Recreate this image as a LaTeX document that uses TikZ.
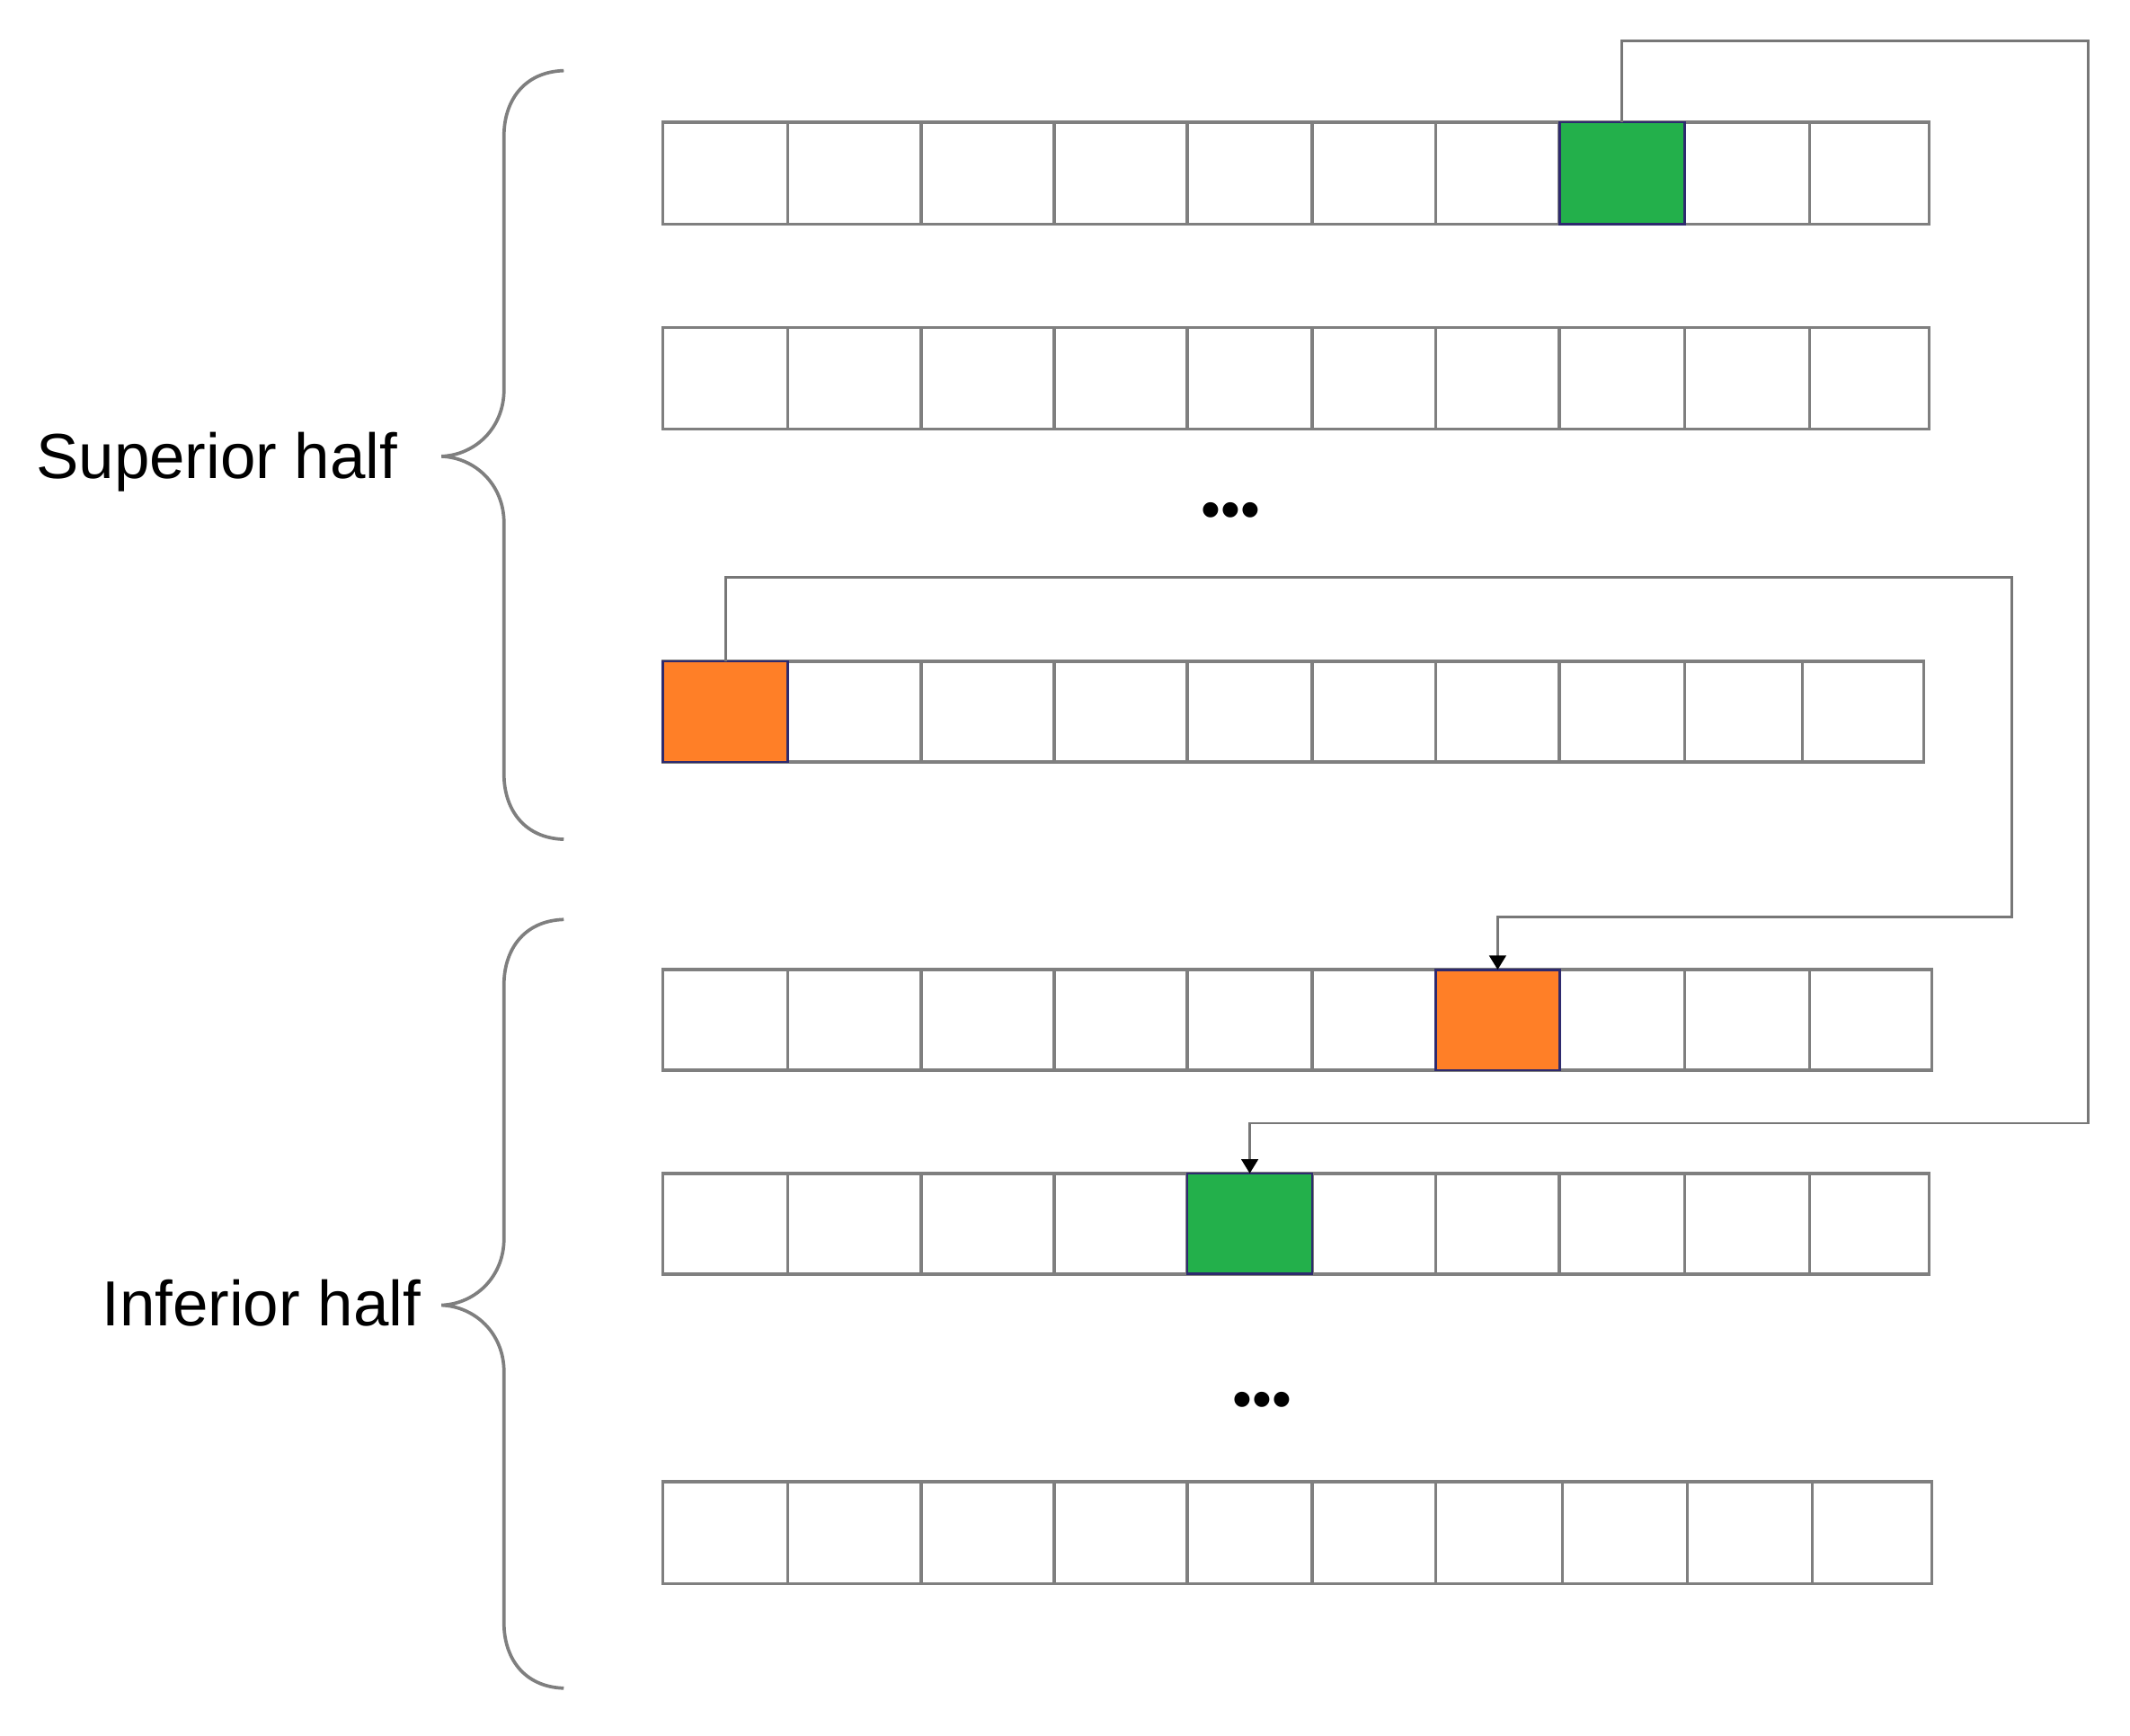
\documentclass[tikz,border=0pt]{standalone}
\usepackage{fontspec}
\setmainfont{Liberation Sans}
\usetikzlibrary{arrows.meta}
\definecolor{cellgray}{HTML}{7F7F7F}
\definecolor{conngray}{HTML}{777777}
\definecolor{mygreen}{HTML}{23B04B}
\definecolor{myorange}{HTML}{FF7F27}
\definecolor{navy}{HTML}{2E2A6E}
\newcommand{\cellrow}[4]{%
  \foreach \a/\b [count=\i] in {#4} {
    \node[cell, minimum width={(\b-\a)*0.02cm}, minimum height={(#3-#2)*0.02cm}]
      (#1c\i) at ({(\a+\b)/2},{(#2+#3)/2}) {};
  }}
\begin{document}
\begin{tikzpicture}[x=0.02cm,y=-0.02cm,
  cell/.style={draw=cellgray, line width=1.3pt, rectangle, inner sep=0pt, outer sep=0pt},
  mark green/.style={draw=navy, line width=1pt, fill=mygreen},
  mark orange/.style={draw=navy, line width=1pt, fill=myorange},
  conn/.style={draw=conngray, line width=1.1pt, -{Triangle[width=7pt,length=6pt,color=black]}},
  brace/.style={draw=cellgray, line width=1.4pt},
  lbl/.style={font=\fontsize{26.7}{32}\selectfont, inner sep=0pt},
  dotlbl/.style={font=\fontsize{23.5}{30}\selectfont, inner sep=0pt, anchor=center}]
\useasboundingbox (0,0) rectangle (1568,1278);

\cellrow{r1}{90}{165}{488/580,580/678,678/776,776/874,874/966,966/1057,1057/1148,1148/1240,1240/1332,1332/1420}
\cellrow{r2}{241}{316}{488/580,580/678,678/776,776/874,874/966,966/1057,1057/1148,1148/1240,1240/1332,1332/1420}
\cellrow{r3}{487}{561}{488/580,580/678,678/776,776/874,874/966,966/1057,1057/1148,1148/1240,1240/1327,1327/1416}
\cellrow{r4}{714}{788}{488/580,580/678,678/776,776/874,874/966,966/1057,1057/1148,1148/1240,1240/1332,1332/1422}
\cellrow{r5}{864}{938}{488/580,580/678,678/776,776/874,874/966,966/1057,1057/1148,1148/1240,1240/1332,1332/1420}
\cellrow{r6}{1091}{1166}{488/580,580/678,678/776,776/874,874/966,966/1057,1057/1150,1150/1242,1242/1334,1334/1422}

\path[mark green] (r1c8.north west) rectangle (r1c8.south east);
\path[mark green] (r5c5.north west) rectangle (r5c5.south east);
\path[mark orange] (r3c1.north west) rectangle (r3c1.south east);
\path[mark orange] (r4c7.north west) rectangle (r4c7.south east);

\coordinate (g1) at (1537,30);
\coordinate (g2) at (1537,827);
\coordinate (o1) at (1481,425);
\coordinate (o2) at (1481,675);
\draw[conn] (r1c8.north) |- (g1) -- (g2) -| (r5c5.north);
\draw[conn] (r3c1.north) |- (o1) -- (o2) -| (r4c7.north);

\node[dotlbl] (dots1) at (906,380) {•••};
\node[dotlbl] (dots2) at (929,1035) {•••};

\draw[brace] (415,52) .. controls (385,53) and (371,75) .. (371,100) -- (371,287)
  .. controls (371,315) and (350,335) .. (325,336)
  .. controls (350,337) and (371,357) .. (371,385) -- (371,570)
  .. controls (371,595) and (385,617) .. (415,618);
\begin{scope}[shift={(0,625)}]
\draw[brace] (415,52) .. controls (385,53) and (371,75) .. (371,100) -- (371,287)
  .. controls (371,315) and (350,335) .. (325,336)
  .. controls (350,337) and (371,357) .. (371,385) -- (371,570)
  .. controls (371,595) and (385,617) .. (415,618);
\end{scope}

\node[lbl, anchor=base east] (sup) at (293,352) {Superior half};
\node[lbl, anchor=base east] (inf) at (310,976) {Inferior half};
\end{tikzpicture}
\end{document}
